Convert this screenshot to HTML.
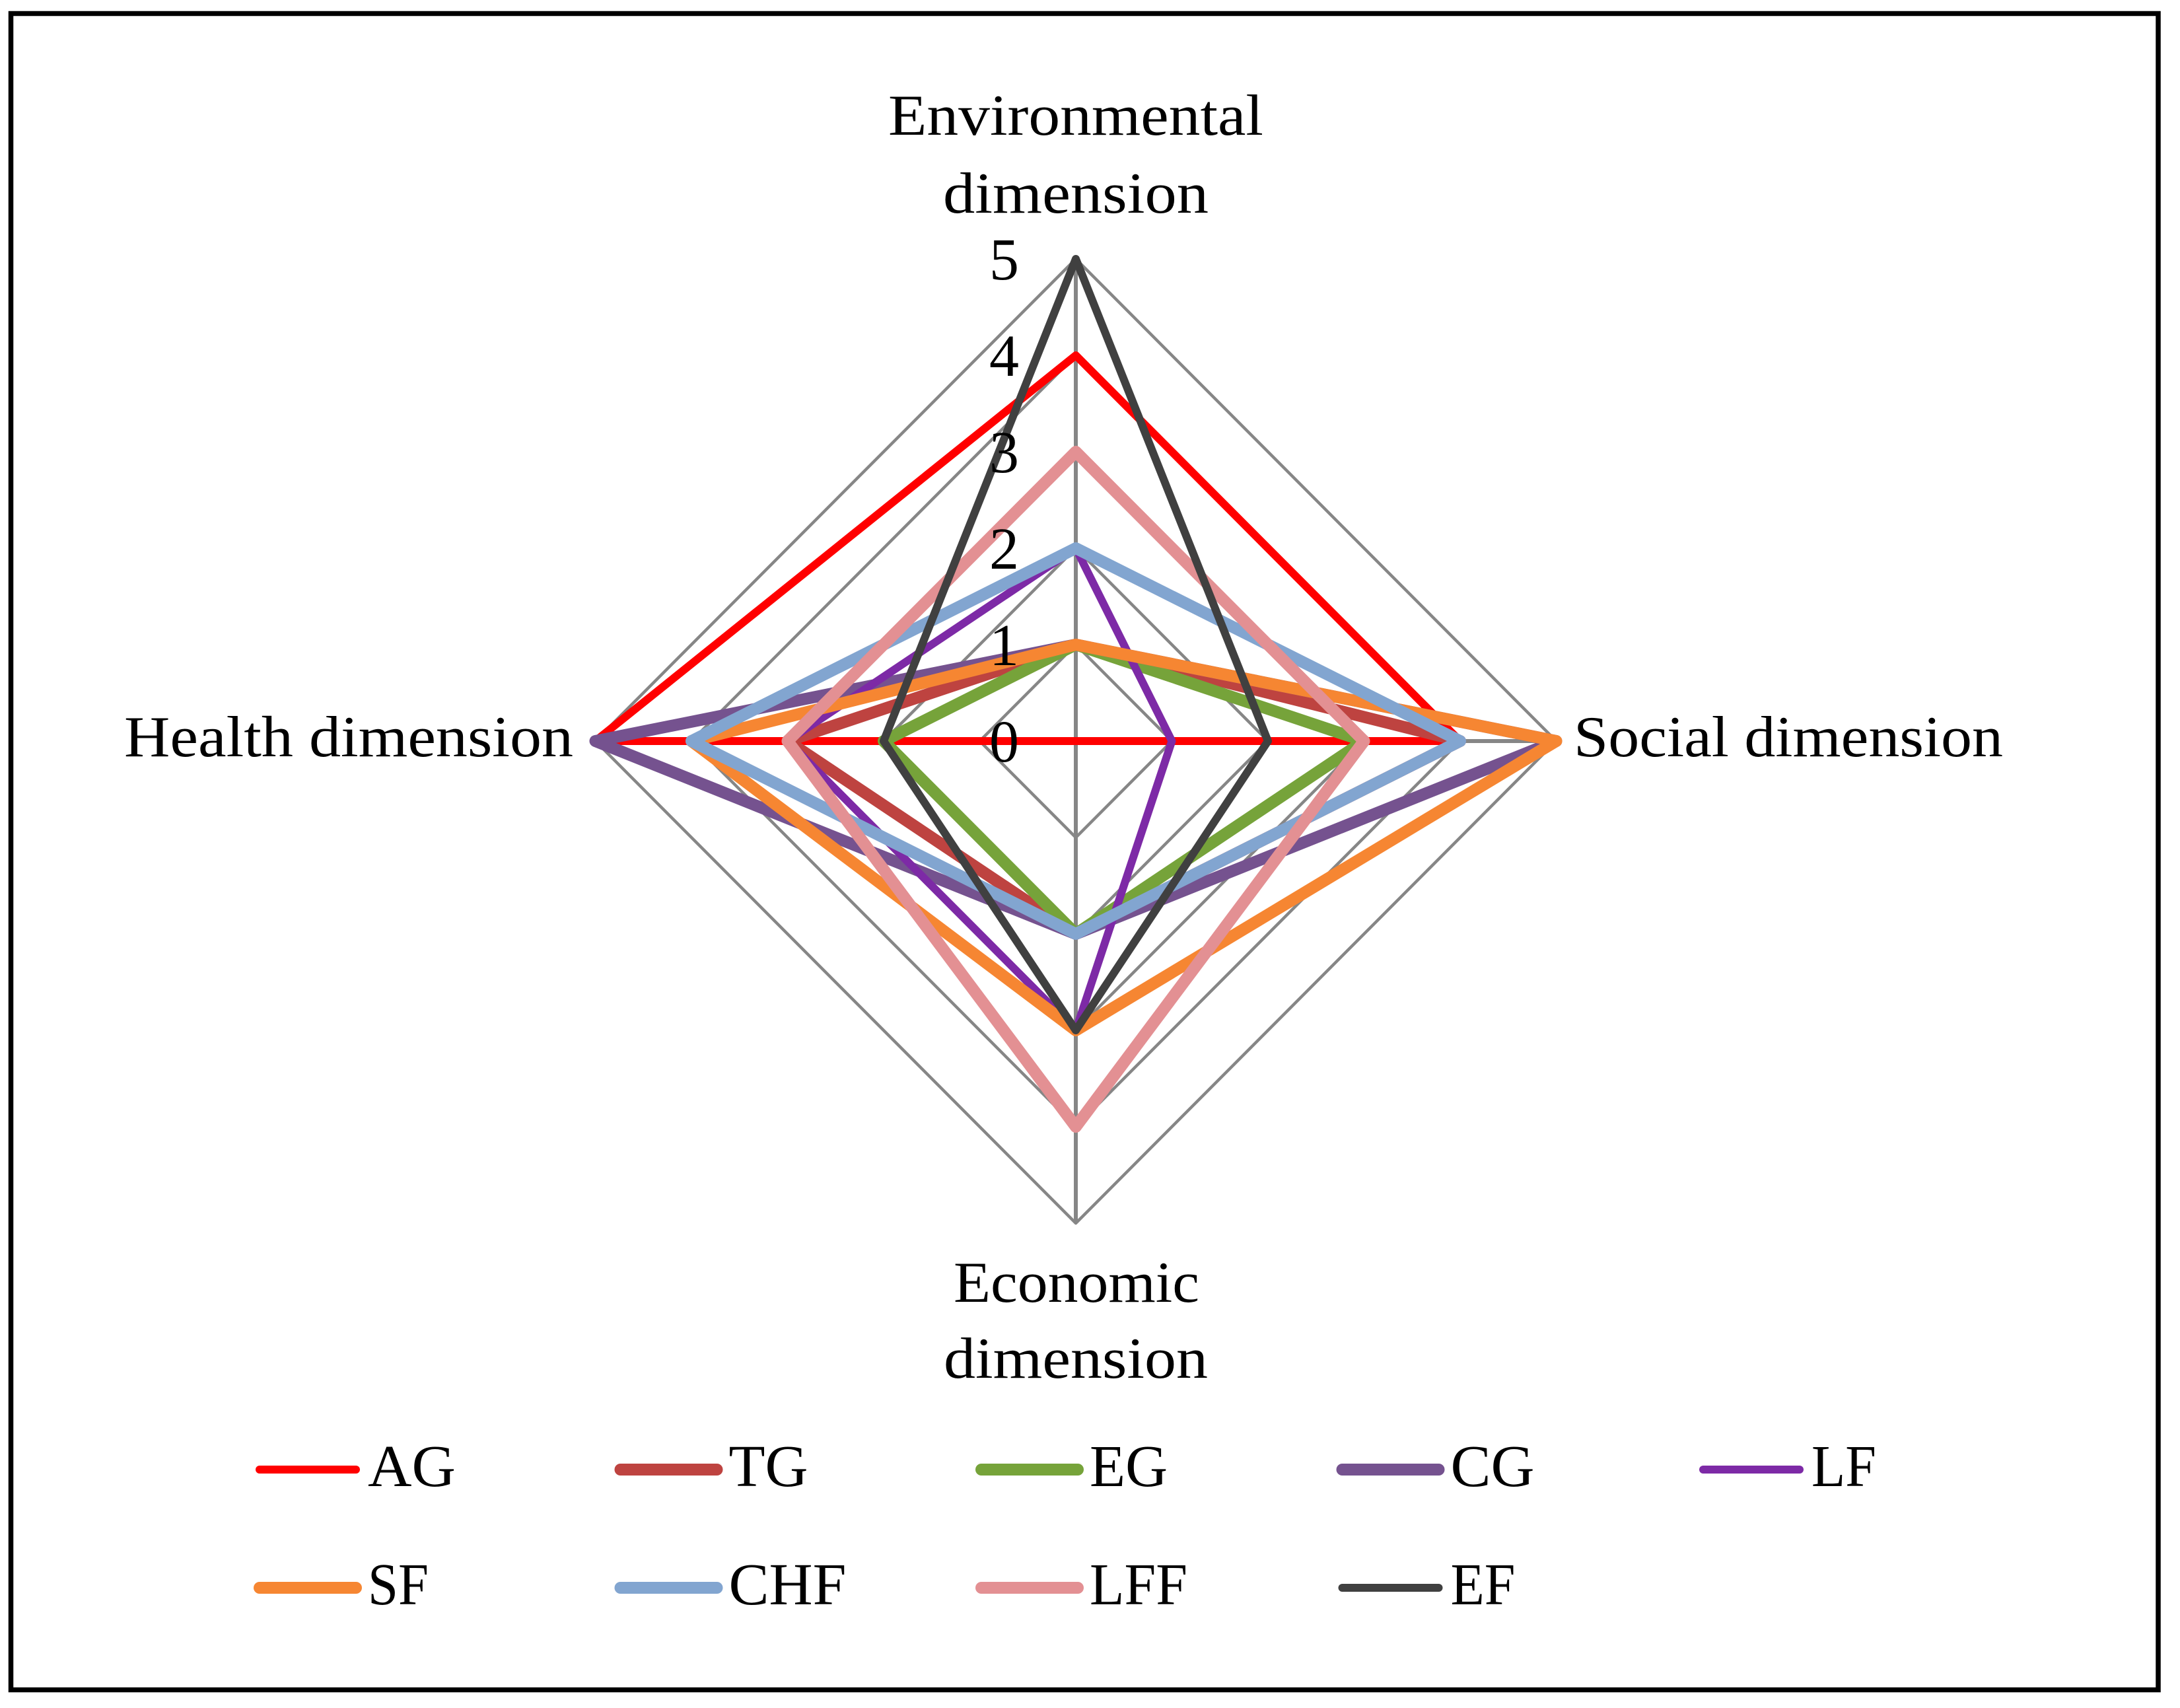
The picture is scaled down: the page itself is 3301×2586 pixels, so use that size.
<!DOCTYPE html>
<html lang="en">
<head>
<meta charset="utf-8">
<title>Radar chart of sustainability dimensions</title>
<style>
  html, body { margin: 0; padding: 0; background: #ffffff; width: 3301px; height: 2586px; overflow: hidden; }
  svg { display: block; position: absolute; left: 0; top: 0; }
  text { font-family: "Liberation Serif", "DejaVu Serif", serif; fill: #000000; }
</style>
</head>
<body>
<svg id="chart" xmlns="http://www.w3.org/2000/svg" width="3301" height="2586" viewBox="0 0 3301 2586">
  <rect x="0" y="0" width="3301" height="2586" fill="#ffffff"/>
  <rect x="16.5" y="20.5" width="3251.5" height="2538" fill="none" stroke="#000000" stroke-width="7.5"/>
  <g id="grid"></g>
  <g id="marks"></g>
  <g id="ticks"></g>
  <g font-size="88">
    <text x="1345" y="204" textLength="568" lengthAdjust="spacingAndGlyphs">Environmental</text>
    <text x="1428" y="322" textLength="402" lengthAdjust="spacingAndGlyphs">dimension</text>
    <text x="2383" y="1145" textLength="650" lengthAdjust="spacingAndGlyphs">Social dimension</text>
    <text x="1444" y="1971" textLength="372" lengthAdjust="spacingAndGlyphs">Economic</text>
    <text x="1429" y="2086" textLength="400" lengthAdjust="spacingAndGlyphs">dimension</text>
    <text x="188" y="1145" textLength="680" lengthAdjust="spacingAndGlyphs">Health dimension</text>
  </g>
  <g id="legend"></g>
</svg>
<script>
// Data: values on axes in order [Environmental, Social, Economic, Health]
const tickLabels = [0, 1, 2, 3, 4, 5];
const seriesNames = ['AG', 'TG', 'EG', 'CG', 'LF', 'SF', 'CHF', 'LFF', 'EF'];
const AG  = [4, 4, 0, 5];
const TG  = [1, 4, 2, 3];
const EG  = [1, 3, 2, 2];
const CG  = [1, 5, 2, 5];
const LF  = [2, 1, 3, 3];
const SF  = [1, 5, 3, 4];
const CHF = [2, 4, 2, 4];
const LFF = [3, 3, 4, 3];
const EF  = [5, 2, 3, 2];
const seriesValues = [AG, TG, EG, CG, LF, SF, CHF, LFF, EF];

// Styling (separate from data)
const seriesColors = ['#FF0000', '#BE4340', '#76A33A', '#75528F', '#7D2AA6', '#F68632', '#82A5D0', '#E39093', '#404040'];
const seriesWidths = [12, 18, 18, 18, 12, 18, 18, 18, 12];
const legendTextWidths = { AG: 133, TG: 120, EG: 118, CG: 127, LF: 98, SF: 92, CHF: 178, LFF: 148, EF: 98 };

const SVGNS = 'http://www.w3.org/2000/svg';
const cx = 1629, cy = 1122, rx = 145.5, ry = 146;
const maxTick = tickLabels[tickLabels.length - 1];

function axisX(axisIndex, v) {
  if (axisIndex === 1) return cx + v * rx;
  if (axisIndex === 3) return cx - v * rx;
  return cx;
}
function axisY(axisIndex, v) {
  if (axisIndex === 0) return cy - v * ry;
  if (axisIndex === 2) return cy + v * ry;
  return cy;
}
function polyPoints(values) {
  return values.map(function (v, i) {
    return axisX(i, v).toFixed(1) + ',' + axisY(i, v).toFixed(1);
  }).join(' ');
}

const grid = document.getElementById('grid');
tickLabels.forEach(function (t) {
  if (t === 0) return;
  const ring = document.createElementNS(SVGNS, 'polygon');
  
  
  ring.setAttribute('points', polyPoints([t, t, t, t]));
  ring.setAttribute('fill', 'none');
  ring.setAttribute('stroke', '#868686');
  ring.setAttribute('stroke-width', '4.5');
  ring.setAttribute('stroke-linejoin', 'round');
  grid.appendChild(ring);
});
[0, 1, 2, 3].forEach(function (a) {
  const spoke = document.createElementNS(SVGNS, 'line');
  
  
  spoke.setAttribute('x1', cx);
  spoke.setAttribute('y1', cy);
  spoke.setAttribute('x2', axisX(a, maxTick));
  spoke.setAttribute('y2', axisY(a, maxTick));
  spoke.setAttribute('stroke', '#868686');
  spoke.setAttribute('stroke-width', '6');
  grid.appendChild(spoke);
});

const marks = document.getElementById('marks');
seriesValues.forEach(function (values, s) {
  const poly = document.createElementNS(SVGNS, 'polygon');
  
  
  poly.setAttribute('points', polyPoints(values));
  poly.setAttribute('fill', 'none');
  poly.setAttribute('stroke', seriesColors[s]);
  poly.setAttribute('stroke-width', seriesWidths[s]);
  poly.setAttribute('stroke-linejoin', 'round');
  marks.appendChild(poly);
});

const ticks = document.getElementById('ticks');
tickLabels.forEach(function (t) {
  const label = document.createElementNS(SVGNS, 'text');
  
  
  label.setAttribute('x', 1543);
  label.setAttribute('y', (axisY(0, t) + 31).toFixed(1));
  label.setAttribute('text-anchor', 'end');
  label.setAttribute('font-size', '90');
  label.textContent = String(t);
  ticks.appendChild(label);
});

function legendKeyCenter(i) {
  const col = i % 5;
  return 466 + col * 546.5;
}
function legendRowY(i) {
  return 2225 + Math.floor(i / 5) * 179;
}
const legend = document.getElementById('legend');
seriesNames.forEach(function (name, i) {
  const c = legendKeyCenter(i);
  const y = legendRowY(i);
  const key = document.createElementNS(SVGNS, 'line');
  
  
  key.setAttribute('x1', c - 73);
  key.setAttribute('x2', c + 73);
  key.setAttribute('y1', y);
  key.setAttribute('y2', y);
  key.setAttribute('stroke', seriesColors[i]);
  key.setAttribute('stroke-width', seriesWidths[i]);
  key.setAttribute('stroke-linecap', 'round');
  legend.appendChild(key);
  const text = document.createElementNS(SVGNS, 'text');
  
  
  text.setAttribute('x', c + 91);
  text.setAttribute('y', y + 25);
  text.setAttribute('font-size', '90');
  text.setAttribute('textLength', legendTextWidths[name]);
  text.setAttribute('lengthAdjust', 'spacingAndGlyphs');
  text.textContent = name;
  legend.appendChild(text);
});
</script>
</body>
</html>
